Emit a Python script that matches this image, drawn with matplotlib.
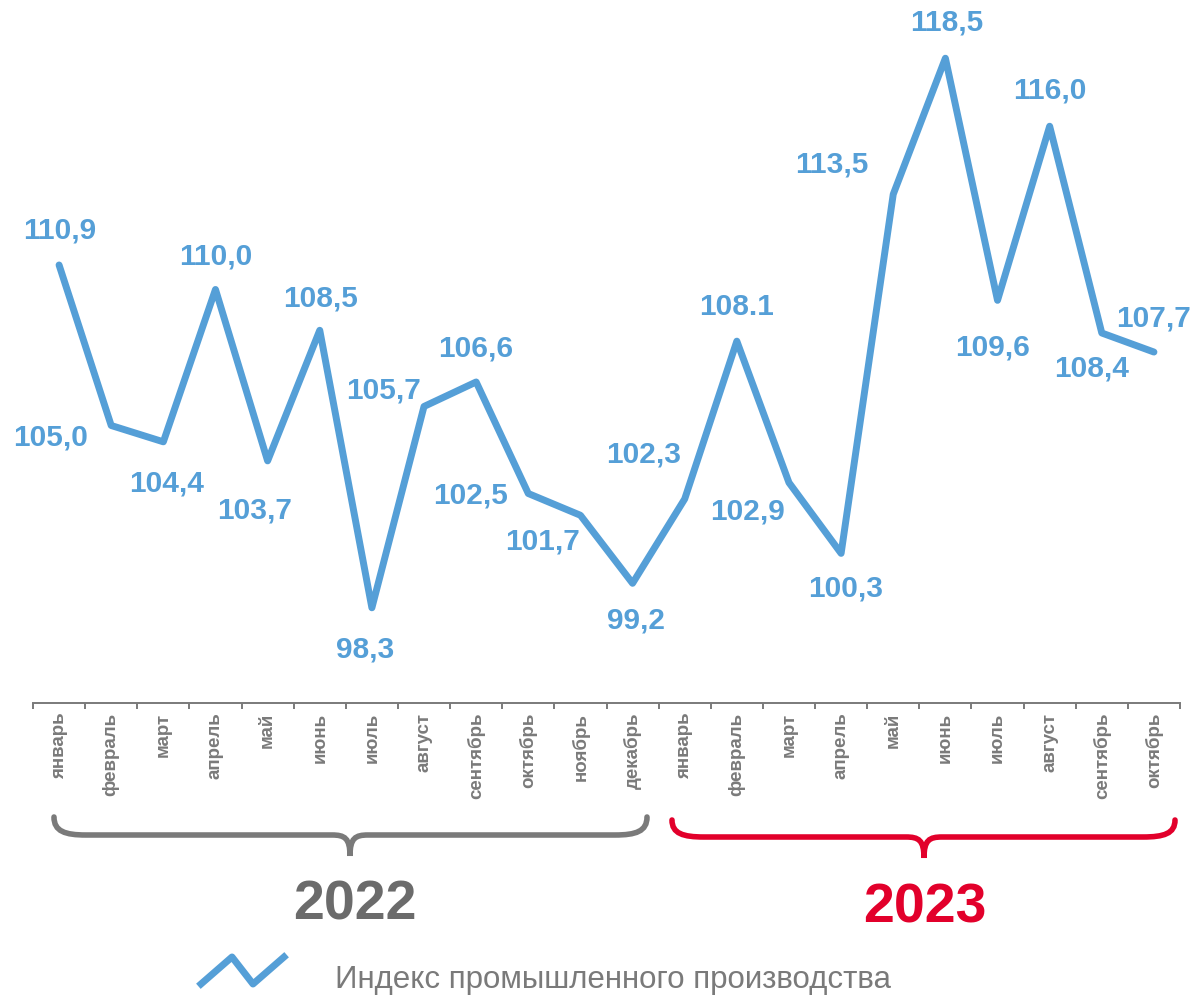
import matplotlib
matplotlib.use("Agg")
import matplotlib.pyplot as plt
from matplotlib.path import Path
from matplotlib.patches import PathPatch
from matplotlib.lines import Line2D

# данные: индекс промышленного производства, % к соотв. месяцу прошлого года
months_2022 = ['январь', 'февраль', 'март', 'апрель', 'май', 'июнь', 'июль',
               'август', 'сентябрь', 'октябрь', 'ноябрь', 'декабрь']
months_2023 = ['январь', 'февраль', 'март', 'апрель', 'май', 'июнь', 'июль',
               'август', 'сентябрь', 'октябрь']
values_2022 = [110.9, 105.0, 104.4, 110.0, 103.7, 108.5, 98.3, 105.7, 106.6, 102.5, 101.7, 99.2]
values_2023 = [102.3, 108.1, 102.9, 100.3, 113.5, 118.5, 109.6, 116.0, 108.4, 107.7]
value_labels = ['110,9', '105,0', '104,4', '110,0', '103,7', '108,5', '98,3', '105,7',
                '106,6', '102,5', '101,7', '99,2', '102,3', '108.1', '102,9', '100,3',
                '113,5', '118,5', '109,6', '116,0', '108,4', '107,7']
years = ['2022', '2023']
legend_label = 'Индекс промышленного производства'

months = months_2022 + months_2023
values = values_2022 + values_2023

# смещения подписей (в пикселях, вниз положительно)
label_offsets = [(1, -34), (-61, 12), (3, 42), (0, -33), (-13, 50), (1, -32),
                 (-7, 42), (-40, -16), (0, -33), (-58, 2), (-38, 26), (3, 37),
                 (-41, -44), (0, -34), (-41, 29), (5, 35), (-61, -30), (1, -36),
                 (-5, 47), (0, -36), (-10, 36), (0, -34)]

BLUE = '#559FD7'
GRAY = '#7A7A7A'
DARK_GRAY = '#6B6B6B'
RED = '#E2002B'
W, H = 1191, 997

fig = plt.figure(figsize=(W / 100, H / 100), dpi=100)
ax = fig.add_axes([33 / W, 1 - 703 / H, (1180 - 33) / W, 703 / H])

x = list(range(len(values)))
ax.plot(x, values, color=BLUE, lw=5, solid_joinstyle='round', solid_capstyle='round',
        clip_on=False)

for xi, v, txt, (dx, dy) in zip(x, values, value_labels, label_offsets):
    ax.annotate(txt, (xi, v), xytext=(dx * 0.72, -dy * 0.72), textcoords='offset points',
                ha='center', va='center', color=BLUE, fontsize=21.5, fontweight='bold',
                family='Liberation Sans', annotation_clip=False)

ax.set_xlim(-0.5, len(values) - 0.5)
ax.set_ylim(94.8, 120.64)
ax.set_yticks([])
for s in ['top', 'right', 'left']:
    ax.spines[s].set_visible(False)
ax.spines['bottom'].set_color(GRAY)
ax.spines['bottom'].set_linewidth(1.4)

ax.set_xticks(x)
ax.set_xticklabels(months, rotation=90, color=GRAY, fontsize=13.5, fontweight='bold',
                   family='Liberation Sans')
ax.tick_params(axis='x', which='major', length=0, pad=7)
ax.set_xticks([i - 0.5 for i in range(len(values) + 1)], minor=True)
ax.tick_params(axis='x', which='minor', length=4, width=1.4, color=GRAY)


def px(xp, yp):
    return (xp / W, 1 - yp / H)


def brace(x0, x1, xc, color, ytop=817, ymid=835, ybot=856, rx=32, cr=18):
    pts = [(x0, ytop),
           (x0, ytop + (ymid - ytop) * 0.8), (x0 + rx * 0.35, ymid), (x0 + rx, ymid),
           (xc - cr, ymid),
           (xc - cr * 0.3, ymid), (xc, ymid + 3), (xc, ybot),
           (xc, ymid + 3), (xc + cr * 0.3, ymid), (xc + cr, ymid),
           (x1 - rx, ymid),
           (x1 - rx * 0.35, ymid), (x1, ytop + (ymid - ytop) * 0.8), (x1, ytop)]
    codes = [Path.MOVETO, Path.CURVE4, Path.CURVE4, Path.CURVE4, Path.LINETO,
             Path.CURVE4, Path.CURVE4, Path.CURVE4, Path.CURVE4, Path.CURVE4, Path.CURVE4,
             Path.LINETO, Path.CURVE4, Path.CURVE4, Path.CURVE4]
    path = Path([px(*p) for p in pts], codes)
    fig.patches.append(PathPatch(path, transform=fig.transFigure, fill=False,
                                 edgecolor=color, lw=4, capstyle='round'))


brace(54, 647, 350, GRAY)
brace(672, 1175, 924, RED, ytop=820, ymid=837, ybot=858)

narrow = ['Liberation Sans Narrow', 'Liberation Sans']
fig.text(*px(355, 905), years[0], ha='center', va='center', fontsize=40,
         fontweight='bold', color=DARK_GRAY, family=narrow)
fig.text(*px(925, 908), years[1], ha='center', va='center', fontsize=40,
         fontweight='bold', color=RED, family=narrow)

# легенда
icon = Line2D([201 / W, 232 / W, 253 / W, 284 / W],
              [1 - 984 / H, 1 - 957 / H, 1 - 984 / H, 1 - 957 / H],
              transform=fig.transFigure, color=BLUE, lw=5)
fig.lines.append(icon)
fig.text(*px(335, 980), legend_label, ha='left', va='center', fontsize=22.5,
         color=GRAY, family=narrow)

fig.savefig('out.png', dpi=100)
